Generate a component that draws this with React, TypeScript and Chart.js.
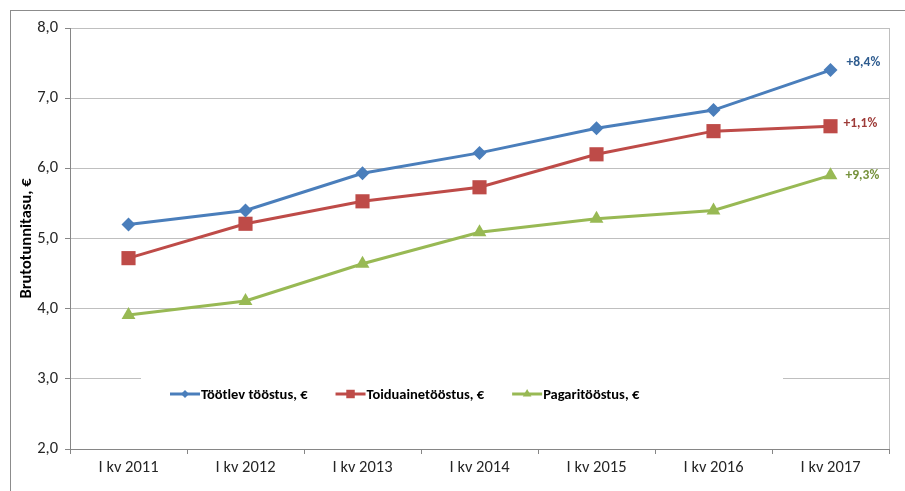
import React, { useEffect, useRef } from "react";
import { Chart, registerables } from "chart.js";

Chart.register(...registerables);

const categories = ["I kv 2011", "I kv 2012", "I kv 2013", "I kv 2014", "I kv 2015", "I kv 2016", "I kv 2017"];
const seriesNames = ["Töötlev tööstus, €", "Toiduainetööstus, €", "Pagaritööstus, €"];
const tootlev = [5.2, 5.4, 5.93, 6.22, 6.57, 6.83, 7.4];
const toiduaine = [4.72, 5.21, 5.53, 5.73, 6.2, 6.53, 6.6];
const pagari = [3.91, 4.11, 4.64, 5.09, 5.28, 5.4, 5.9];
const changeLabels = ["+8,4%", "+1,1%", "+9,3%"];
const yTitle = "Brutotunnitasu, €";

const lineColors = ["#4A7EBB", "#BE4B48", "#98B954"];
const labelColors = ["#2F5C8F", "#9E3B38", "#76923C"];
const pointStyles = ["rectRot", "rect", "triangle"];
const pointRadii = [7, 10, 8];
const legendRadii = [4, 6, 5];
const labelOffsets = [
  [16, -7],
  [13, -3],
  [15, 0],
];

const FONT = "Carlito, Calibri, Lato, 'Liberation Sans', sans-serif";

function drawMarker(ctx: CanvasRenderingContext2D, style: string, r: number, x: number, y: number) {
  ctx.beginPath();
  if (style === "rectRot") {
    ctx.moveTo(x - r, y);
    ctx.lineTo(x, y - r);
    ctx.lineTo(x + r, y);
    ctx.lineTo(x, y + r);
  } else if (style === "rect") {
    const s = r * Math.SQRT1_2;
    ctx.rect(x - s, y - s, 2 * s, 2 * s);
  } else {
    ctx.moveTo(x, y - r);
    ctx.lineTo(x + r * Math.sin((2 * Math.PI) / 3), y - r * Math.cos((2 * Math.PI) / 3));
    ctx.lineTo(x + r * Math.sin((4 * Math.PI) / 3), y - r * Math.cos((4 * Math.PI) / 3));
  }
  ctx.closePath();
  ctx.fill();
}

const decorPlugin = {
  id: "decor",
  beforeDatasetsDraw(chart: any) {
    const { ctx, chartArea } = chart;
    ctx.save();
    ctx.strokeStyle = "#BFBFBF";
    ctx.lineWidth = 1;
    ctx.beginPath();
    ctx.moveTo(chartArea.right + 0.5, chartArea.top);
    ctx.lineTo(chartArea.right + 0.5, chartArea.bottom);
    ctx.stroke();
    // legend box (inside plot area)
    ctx.fillStyle = "#FFFFFF";
    ctx.fillRect(141, 360, 642, 62);
    ctx.restore();
  },
  afterDatasetsDraw(chart: any) {
    const { ctx } = chart;
    ctx.save();
    // end-point change labels
    ctx.font = "bold 13.5px " + FONT;
    ctx.textAlign = "left";
    ctx.textBaseline = "middle";
    chart.data.datasets.forEach((ds: any, i: number) => {
      const meta = chart.getDatasetMeta(i);
      const pt = meta.data[meta.data.length - 1];
      ctx.fillStyle = labelColors[i];
      ctx.fillText(changeLabels[i], pt.x + labelOffsets[i][0], pt.y + labelOffsets[i][1]);
    });
    // legend
    ctx.font = "bold 14.5px " + FONT;
    let x = 170;
    const y = 394;
    seriesNames.forEach((name, i) => {
      ctx.strokeStyle = lineColors[i];
      ctx.lineWidth = 3;
      ctx.beginPath();
      ctx.moveTo(x, y);
      ctx.lineTo(x + 30, y);
      ctx.stroke();
      ctx.fillStyle = lineColors[i];
      drawMarker(ctx, pointStyles[i], legendRadii[i], x + 15, y);
      ctx.fillStyle = "#000000";
      ctx.fillText(name, x + 31, y + 1);
      x += 31 + ctx.measureText(name).width + 28;
    });
    ctx.restore();
  },
};

export default function App() {
  const canvasRef = useRef<HTMLCanvasElement | null>(null);

  useEffect(() => {
    if (!canvasRef.current) return;
    const seriesValues = [tootlev, toiduaine, pagari];
    const chart = new Chart(canvasRef.current, {
      type: "line",
      data: {
        labels: categories,
        datasets: seriesNames.map((name, i) => ({
          label: name,
          data: seriesValues[i],
          borderColor: lineColors[i],
          backgroundColor: lineColors[i],
          borderWidth: 3,
          pointStyle: pointStyles[i] as any,
          pointRadius: pointRadii[i],
          pointBorderWidth: 0,
          pointBackgroundColor: lineColors[i],
          tension: 0,
          fill: false,
        })),
      },
      options: {
        animation: false,
        responsive: false,
        layout: { padding: { left: 10, top: 28, right: 16, bottom: 12 } },
        plugins: {
          legend: { display: false },
          tooltip: { enabled: false },
        },
        scales: {
          x: {
            offset: true,
            grid: {
              offset: true,
              drawOnChartArea: false,
              drawTicks: true,
              tickLength: 5,
              color: "#868686",
            },
            border: { color: "#868686", width: 1 },
            ticks: {
              color: "#262626",
              padding: 4,
              font: { family: FONT, size: 16.5 },
              maxRotation: 0,
              autoSkip: false,
            },
            afterFit(scale: any) {
              scale.height = 30;
            },
          },
          y: {
            min: 2,
            max: 8,
            grid: {
              color: "#BFBFBF",
              tickColor: "#868686",
              tickLength: 5,
            },
            border: { color: "#868686", width: 1 },
            ticks: {
              stepSize: 1,
              color: "#262626",
              padding: 7,
              font: { family: FONT, size: 16.5 },
              callback: (v: any) => Number(v).toFixed(1).replace(".", ","),
            },
            title: {
              display: true,
              text: yTitle,
              color: "#000000",
              font: { family: FONT, size: 16.5, weight: "bold" },
              padding: { top: 7, bottom: 0 },
            },
            afterFit(scale: any) {
              scale.width = 60;
            },
          },
        },
      },
      plugins: [decorPlugin],
    });
    return () => chart.destroy();
  }, []);

  return (
    <div style={{ position: "fixed", left: 0, top: 0, width: 905, height: 491, background: "#FFFFFF", overflow: "hidden" }}>
      <div
        style={{
          position: "absolute",
          left: 10,
          top: 10,
          width: 920,
          height: 520,
          border: "1px solid #8C8C8C",
          boxSizing: "border-box",
        }}
      />
      <canvas ref={canvasRef} width={905} height={491} style={{ position: "absolute", left: 0, top: 0 }} />
    </div>
  );
}
